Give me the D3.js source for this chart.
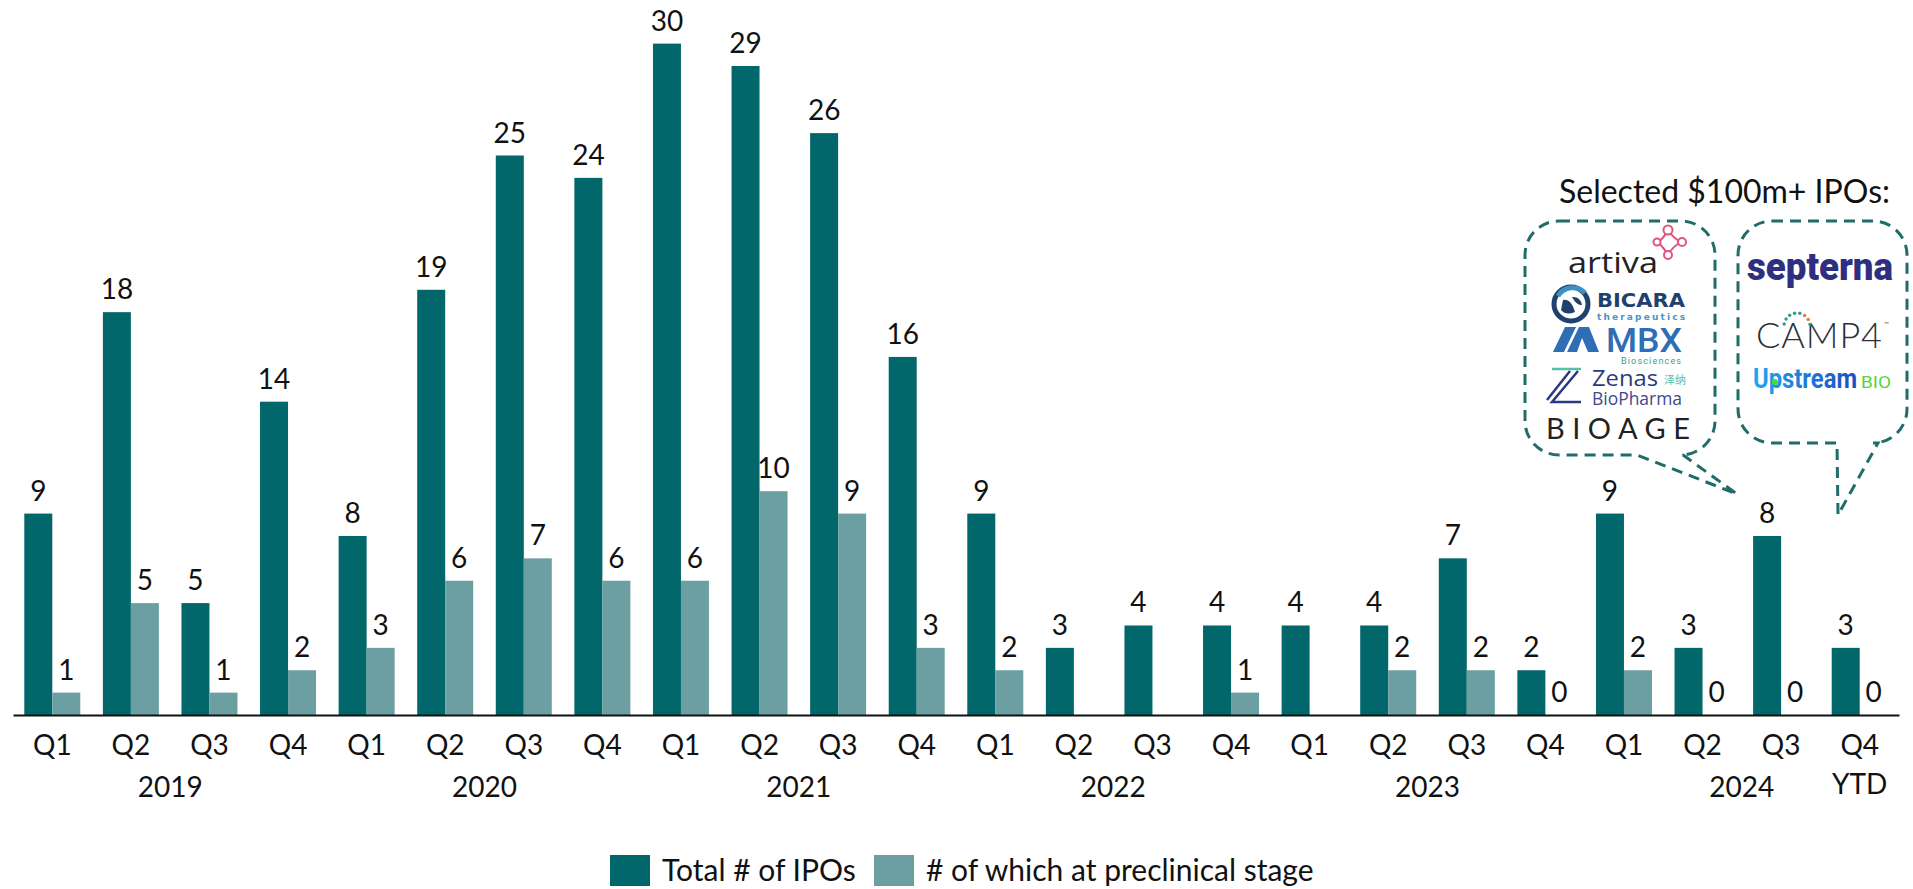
<!DOCTYPE html>
<html>
<head>
<meta charset="utf-8">
<script src="https://cdn.jsdelivr.net/npm/d3@7"></script>
<style>
  html, body { margin: 0; padding: 0; background: #fff; }
  svg { display: block; font-family: Lato, "Noto Sans", sans-serif; }
</style>
</head>
<body>
<svg id="chart" width="1913" height="889"></svg>
<script>
// Biotech IPOs per quarter, 2019 – Q4 2024 YTD
const years = ["2019", "2020", "2021", "2022", "2023", "2024"];
const quarters = ["Q1", "Q2", "Q3", "Q4"];
const totalIPOs = [9, 18, 5, 14, 8, 19, 25, 24, 30, 29, 26, 16, 9, 3, 4, 4, 4, 4, 7, 2, 9, 3, 8, 3];
const preclinicalIPOs = [1, 5, 1, 2, 3, 6, 7, 6, 6, 10, 9, 3, 2, null, null, 1, null, 2, 2, 0, 2, 0, 0, 0];
const seriesNames = ["Total # of IPOs", "# of which at preclinical stage"];
const seriesColors = ["#02676a", "#6c9fa2"];
const calloutTitle = "Selected $100m+ IPOs:";

const periods = years.flatMap(y => quarters.map(q => `${y} ${q}`));
const rows = periods.map((p, i) => ({ period: p, total: totalIPOs[i], pre: preclinicalIPOs[i] }));

const svg = d3.select("#chart");
const baseY = 715;

const x0 = d3.scaleBand()
  .domain(periods)
  .range([13, 1899])
  .paddingInner(0.2873)
  .paddingOuter(0.1437);

const x1 = d3.scaleBand()
  .domain(["total", "pre"])
  .range([0, x0.bandwidth()]);

const y = d3.scaleLinear().domain([0, 30]).range([baseY, 43.6]);

// Bars
const groups = svg.append("g").selectAll("g")
  .data(rows)
  .join("g")
  .attr("transform", d => `translate(${x0(d.period)},0)`);

["total", "pre"].forEach((key, k) => {
  groups.filter(d => d[key] !== null)
    .append("rect")
    .attr("x", x1(key))
    .attr("width", x1.bandwidth())
    .attr("y", d => y(d[key]))
    .attr("height", d => baseY - y(d[key]))
    .attr("fill", seriesColors[k]);

  groups.filter(d => d[key] !== null)
    .append("text")
    .attr("x", x1(key) + x1.bandwidth() / 2)
    .attr("y", d => y(d[key]) - 13)
    .attr("text-anchor", "middle")
    .attr("font-size", 28)
    .attr("fill", "#111")
    .text(d => d[key]);
});

// Category axis with quarter labels
const axis = d3.axisBottom(x0)
  .tickSize(0)
  .tickSizeOuter(0)
  .tickFormat(p => p.split(" ")[1]);

const axisG = svg.append("g")
  .attr("transform", `translate(0,${baseY})`)
  .call(axis);
axisG.select(".domain").attr("stroke", "#111").attr("stroke-width", 2);
axisG.selectAll(".tick text")
  .attr("y", 40)
  .attr("dy", 0)
  .attr("font-size", 28)
  .attr("font-family", "Lato, sans-serif")
  .attr("fill", "#111");

// Year labels centred under each year's quarters
const yearLabelG = svg.append("g");
years.forEach(yr => {
  const a = x0(`${yr} Q2`) + x0.bandwidth() / 2;
  const b = x0(`${yr} Q3`) + x0.bandwidth() / 2;
  yearLabelG.append("text")
    .attr("x", (a + b) / 2)
    .attr("y", 797)
    .attr("text-anchor", "middle")
    .attr("font-size", 28)
    .attr("fill", "#111")
    .text(yr);
});
const lastPeriod = periods[periods.length - 1];
yearLabelG.append("text")
  .attr("x", x0(lastPeriod) + x0.bandwidth() / 2)
  .attr("y", 794)
  .attr("text-anchor", "middle")
  .attr("font-size", 28)
  .attr("fill", "#111")
  .text("YTD");

// Legend
const legend = svg.append("g");
const legendItems = [
  { name: seriesNames[0], color: seriesColors[0], x: 610 },
  { name: seriesNames[1], color: seriesColors[1], x: 874 }
];
legendItems.forEach(it => {
  legend.append("rect")
    .attr("x", it.x).attr("y", 855)
    .attr("width", 40).attr("height", 31)
    .attr("fill", it.color);
  legend.append("text")
    .attr("x", it.x + 52).attr("y", 881)
    .attr("font-size", 30)
    .attr("fill", "#111")
    .text(it.name);
});

// Callout: title and dashed speech bubbles
const callout = svg.append("g");
callout.append("text")
  .attr("x", 1890).attr("y", 203)
  .attr("text-anchor", "end")
  .attr("font-size", 32)
  .attr("fill", "#111")
  .text(calloutTitle);

function bubble(x0b, x1b, y0b, y1b, r, tailL, tailR, tip) {
  const p = d3.path();
  p.moveTo(x0b + r, y0b);
  p.lineTo(x1b - r, y0b);
  p.arcTo(x1b, y0b, x1b, y0b + r, r);
  p.lineTo(x1b, y1b - r);
  p.arcTo(x1b, y1b, x1b - r, y1b, r);
  p.lineTo(tailR, y1b);
  p.lineTo(tip[0], tip[1]);
  p.lineTo(tailL, y1b);
  p.lineTo(x0b + r, y1b);
  p.arcTo(x0b, y1b, x0b, y1b - r, r);
  p.lineTo(x0b, y0b + r);
  p.arcTo(x0b, y0b, x0b + r, y0b, r);
  p.closePath();
  return p.toString();
}
const bubbleStyle = sel => sel
  .attr("fill", "none")
  .attr("stroke", "#1f6c68")
  .attr("stroke-width", 3)
  .attr("stroke-dasharray", "11 7");

callout.append("path")
  .attr("d", bubble(1525, 1715, 221, 455, 34, 1637, 1683, [1737, 494]))
  .call(bubbleStyle);
callout.append("path")
  .attr("d", bubble(1738, 1907, 221, 443, 34, 1837, 1878, [1838, 515]))
  .call(bubbleStyle);

// Company wordmarks — left bubble
const lg = callout.append("g");

// artiva
lg.append("text").attr("x", 1568).attr("y", 273)
  .attr("font-family", "'Open Sans', sans-serif").attr("font-weight", 400)
  .attr("font-size", 30).attr("fill", "#222")
  .attr("textLength", 90).attr("lengthAdjust", "spacingAndGlyphs")
  .text("artiva");
const mol = lg.append("g").attr("stroke", "#e0557e").attr("fill", "none").attr("stroke-width", 2);
mol.append("path").attr("d", "M1668,230 Q1664,238 1658,242 M1668,230 Q1673,238 1681,242 M1658,242 Q1664,248 1668,255 M1681,242 Q1672,247 1668,255");
[[1668, 230, 4.5], [1657, 242, 3.5], [1682, 242, 4], [1668, 255, 4]].forEach(c =>
  mol.append("circle").attr("cx", c[0]).attr("cy", c[1]).attr("r", c[2]).attr("fill", "#fff"));

// BICARA therapeutics
lg.append("circle").attr("cx", 1571).attr("cy", 304).attr("r", 17)
  .attr("fill", "#fff").attr("stroke", "#1f4170").attr("stroke-width", 5);
lg.append("path").attr("d", "M1558,296 A17,17 0 0,1 1585,293")
  .attr("fill", "none").attr("stroke", "#3e8fc4").attr("stroke-width", 5);
lg.append("path").attr("d", "M1563,300 Q1571,298 1575,312 Q1566,316 1561,310 Z M1572,297 Q1580,296 1582,305 Q1577,306 1572,297 Z")
  .attr("fill", "#1f4170");
lg.append("text").attr("x", 1597).attr("y", 307)
  .attr("font-family", "'DejaVu Sans', sans-serif").attr("font-weight", 900)
  .attr("font-size", 19).attr("fill", "#1f4170")
  .attr("textLength", 88).attr("lengthAdjust", "spacingAndGlyphs")
  .text("BICARA");
lg.append("text").attr("x", 1597).attr("y", 320)
  .attr("font-family", "'DejaVu Sans', sans-serif").attr("font-weight", 700)
  .attr("font-size", 9).attr("fill", "#4a93c6")
  .attr("textLength", 88).attr("lengthAdjust", "spacing")
  .text("therapeutics");

// MBX Biosciences
lg.append("path").attr("d", "M1553,352 L1565,327 L1576,327 L1564,352 Z M1567,352 L1579,327 L1589,327 L1599,352 L1588,352 L1582,338 L1577,352 Z")
  .attr("fill", "#2f6db5");
lg.append("text").attr("x", 1606).attr("y", 352)
  .attr("font-family", "Roboto, sans-serif").attr("font-weight", 500)
  .attr("font-size", 33).attr("fill", "#2f6db5")
  .attr("textLength", 76).attr("lengthAdjust", "spacingAndGlyphs")
  .text("MBX");
lg.append("text").attr("x", 1621).attr("y", 364)
  .attr("font-family", "Roboto, sans-serif").attr("font-size", 9).attr("fill", "#3aa08a")
  .attr("textLength", 60).attr("lengthAdjust", "spacing")
  .text("Biosciences");

// Zenas BioPharma
lg.append("path").attr("d", "M1552,369 L1581,369").attr("stroke", "#56bfae").attr("stroke-width", 2.5);
lg.append("path").attr("d", "M1578,371 L1552,402 L1581,402 M1570,371 L1547,400")
  .attr("fill", "none").attr("stroke", "#2b3a80").attr("stroke-width", 2.5);
lg.append("text").attr("x", 1592).attr("y", 386)
  .attr("font-family", "'Open Sans', sans-serif").attr("font-size", 21).attr("fill", "#2b3a80")
  .attr("textLength", 66).attr("lengthAdjust", "spacingAndGlyphs")
  .text("Zenas");
lg.append("text").attr("x", 1664).attr("y", 384)
  .attr("font-family", "'Noto Sans CJK SC', sans-serif").attr("font-size", 11).attr("fill", "#56bfae")
  .text("泽纳");
lg.append("text").attr("x", 1592).attr("y", 405)
  .attr("font-family", "'Open Sans', sans-serif").attr("font-size", 19).attr("fill", "#3d4a8f")
  .attr("textLength", 90).attr("lengthAdjust", "spacingAndGlyphs")
  .text("BioPharma");

// BIOAGE
lg.append("text").attr("x", 1546).attr("y", 439)
  .attr("font-family", "Lato, sans-serif").attr("font-size", 29).attr("fill", "#222")
  .attr("textLength", 144).attr("lengthAdjust", "spacing")
  .text("BIOAGE");

// Company wordmarks — right bubble
const rg = callout.append("g");

// septerna
rg.append("text").attr("x", 1747).attr("y", 280)
  .attr("font-family", "Roboto, sans-serif").attr("font-weight", 900)
  .attr("font-size", 38).attr("fill", "#2e2f80")
  .attr("textLength", 146).attr("lengthAdjust", "spacingAndGlyphs")
  .text("septerna");

// CAMP4
rg.append("text").attr("x", 1756).attr("y", 348)
  .attr("font-family", "Lato, sans-serif").attr("font-weight", 300)
  .attr("font-size", 36).attr("fill", "#2a2f3a")
  .attr("textLength", 126).attr("lengthAdjust", "spacing")
  .text("CAMP4");
rg.append("text").attr("x", 1884).attr("y", 326)
  .attr("font-size", 6).attr("fill", "#555").text("™");
const dotCols = ["#2a9d8f", "#2a9d8f", "#2a9d8f", "#2a9d8f", "#2a9d8f", "#e0793a", "#e0793a", "#2a9d8f"];
dotCols.forEach((c, i) => {
  const a = Math.PI * (1.05 + i * 0.13);
  rg.append("circle")
    .attr("cx", 1797 + 13 * Math.cos(a))
    .attr("cy", 326 + 13 * Math.sin(a))
    .attr("r", 1.7).attr("fill", c);
});

// UpstreamBIO
const defs = svg.append("defs");
const grad = defs.append("linearGradient").attr("id", "upGrad").attr("x1", "0").attr("x2", "1");
grad.append("stop").attr("offset", "0").attr("stop-color", "#22a6ee");
grad.append("stop").attr("offset", "1").attr("stop-color", "#1a4fc4");
rg.append("text").attr("x", 1753).attr("y", 388)
  .attr("font-family", "Roboto, sans-serif").attr("font-weight", 700)
  .attr("font-size", 28).attr("fill", "url(#upGrad)")
  .attr("textLength", 104).attr("lengthAdjust", "spacingAndGlyphs")
  .text("Upstream");
rg.append("circle").attr("cx", 1775).attr("cy", 382).attr("r", 3).attr("fill", "#3fe03a");
rg.append("text").attr("x", 1861).attr("y", 388)
  .attr("font-family", "Roboto, sans-serif").attr("font-size", 16).attr("fill", "#55d43a")
  .attr("textLength", 30).attr("lengthAdjust", "spacingAndGlyphs")
  .text("BIO");
</script>
</body>
</html>
